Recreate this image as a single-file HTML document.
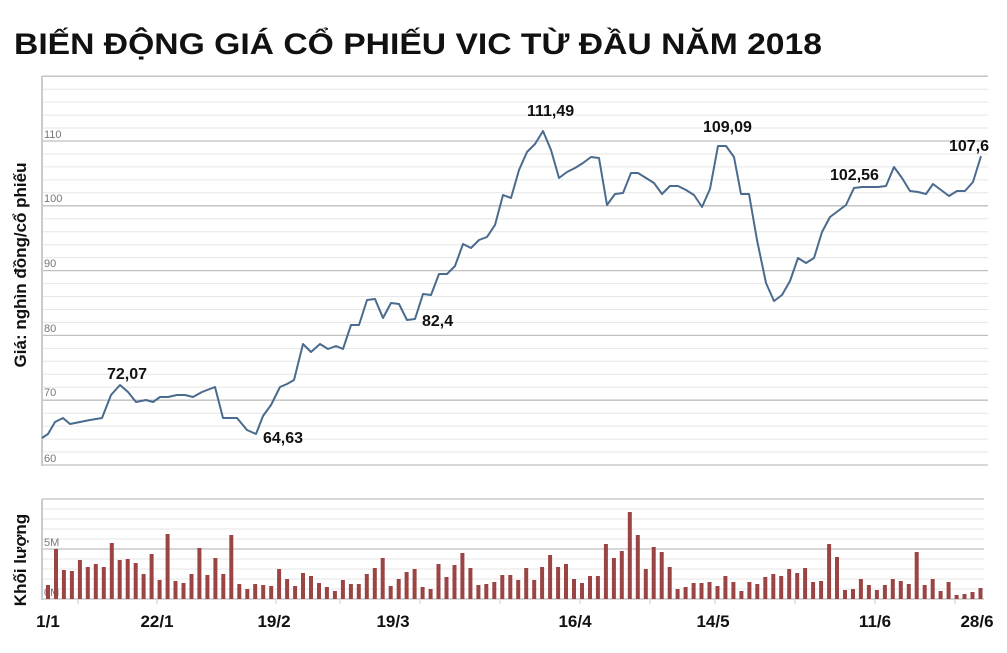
<!DOCTYPE html>
<html><head><meta charset="utf-8"><style>
html,body{margin:0;padding:0;background:#fff;}
svg{display:block;font-family:"Liberation Sans",Arial,sans-serif;}
</style></head><body>
<svg width="1007" height="653" viewBox="0 0 1007 653" xmlns="http://www.w3.org/2000/svg">
<rect width="1007" height="653" fill="#fff"/>
<text x="14" y="54" font-size="30" font-weight="bold" fill="#111" textLength="808" lengthAdjust="spacingAndGlyphs">BIẾN ĐỘNG GIÁ CỔ PHIẾU VIC TỪ ĐẦU NĂM 2018</text>
<g id="pgrid"></g>
<g id="vgrid"></g>
<line x1="42" y1="76" x2="42" y2="466" stroke="#c5ccd4" stroke-width="2"/>
<line x1="42" y1="499" x2="42" y2="600" stroke="#c5ccd4" stroke-width="2"/>
<g font-size="11" fill="#777">
<text x="44" y="138">110</text><text x="44" y="202">100</text><text x="44" y="267">90</text>
<text x="44" y="332">80</text><text x="44" y="396">70</text><text x="44" y="462">60</text>
<text x="44" y="546">5M</text><text x="44" y="596">0M</text>
</g>
<g id="bars" fill="#9b4444"></g>
<polyline fill="none" stroke="#4a6a8e" stroke-width="2" stroke-linejoin="round" points="42,438 48,434 55,422 63,418 70,424 80,422 90,420 102,418 111,395 120,385 128,392 136,402 146,400 153,402 160,397 168,397 177,395 185,395 193,397 202,392 215,387 223,418 237,418 247,430 256,434 263,416 271,405 280,387 287,384 294,380 303,344 311,352 320,344 328,349 336,346 343,349 351,325 359,325 367,300 375,299 383,318 391,303 399,304 407,320 415,319 423,294 431,295 439,274 447,274 455,266 463,244 471,248 479,240 487,237 495,225 503,195 511,198 519,170 527,152 535,144 543,131 551,150 559,178 567,172 575,168 583,163 591,157 599,158 607,205 615,194 623,193 631,173 638,173 646,178 654,183 662,194 670,186 678,186 686,190 694,195 702,207 710,189 718,146 726,146 734,157 741,194 749,194 757,240 766,283 774,301 782,295 790,281 798,258 806,263 814,258 822,232 830,217 838,211 846,205 854,188 862,187 870,187 878,187 886,186 894,167 902,178 910,191 918,192 926,194 933,184 941,190 949,196 957,191 965,191 973,182 981,156"/>
<g font-size="16" font-weight="bold" fill="#111">
<text x="107" y="379">72,07</text><text x="263" y="443">64,63</text><text x="422" y="326">82,4</text>
<text x="527" y="116">111,49</text><text x="703" y="132">109,09</text><text x="830" y="180">102,56</text><text x="949" y="151">107,6</text>
</g>
<text transform="translate(26,265) rotate(-90)" text-anchor="middle" font-size="17" font-weight="bold" fill="#111">Giá: nghìn đồng/cổ phiếu</text>
<text transform="translate(26,560) rotate(-90)" text-anchor="middle" font-size="17" font-weight="bold" fill="#111">Khối lượng</text>
<g stroke="#ccc"><line x1="78" y1="600" x2="78" y2="604"/><line x1="157" y1="600" x2="157" y2="604"/><line x1="276" y1="600" x2="276" y2="604"/><line x1="340" y1="600" x2="340" y2="604"/><line x1="420" y1="600" x2="420" y2="604"/><line x1="500" y1="600" x2="500" y2="604"/><line x1="580" y1="600" x2="580" y2="604"/><line x1="650" y1="600" x2="650" y2="604"/><line x1="715" y1="600" x2="715" y2="604"/><line x1="795" y1="600" x2="795" y2="604"/><line x1="875" y1="600" x2="875" y2="604"/><line x1="955" y1="600" x2="955" y2="604"/></g>
<g font-size="17" font-weight="bold" fill="#111" text-anchor="middle">
<text x="48" y="627">1/1</text><text x="157" y="627">22/1</text><text x="274" y="627">19/2</text><text x="393" y="627">19/3</text>
<text x="575" y="627">16/4</text><text x="713" y="627">14/5</text><text x="875" y="627">11/6</text><text x="977" y="627">28/6</text>
</g>
<script>
var ns="http://www.w3.org/2000/svg";
function L(g,x1,y1,x2,y2,c,w){var l=document.createElementNS(ns,"line");l.setAttribute("x1",x1);l.setAttribute("y1",y1);l.setAttribute("x2",x2);l.setAttribute("y2",y2);l.setAttribute("stroke",c);l.setAttribute("stroke-width",w);g.appendChild(l);}
var pg=document.getElementById("pgrid");
for(var v=60;v<=120;v+=2){var y=465-(v-60)*6.48;var major=(v%10==0);L(pg,42,y.toFixed(1),988,y.toFixed(1),major?"#bfbfbf":"#e6e6e6",major?1.3:1);}
var vg=document.getElementById("vgrid");
for(var y=499;y<=599;y+=10){var m=(y==499||y==549||y==599);L(vg,42,y,984,y,m?"#bfbfbf":"#e6e6e6",m?1.3:1);}
var tops=[585,549,570,571,560,567,564,567,543,560,559,563,574,554,580,534,581,583,574,548,575,558,574,535,584,589,584,585,586,569,579,586,573,576,583,587,591,580,584,584,574,568,558,586,579,572,569,587,589,564,577,565,553,568,585,584,582,575,575,580,568,580,567,555,567,564,579,583,576,576,544,558,551,512,535,569,547,552,567,589,587,583,583,582,586,576,582,591,582,584,577,574,576,569,573,568,582,581,544,557,590,589,579,585,590,585,579,581,584,552,585,579,591,582,595,594,592,588,592];
var bg=document.getElementById("bars");
for(var i=0;i<118;i++){var r=document.createElementNS(ns,"rect");var x=46+i*7.97;r.setAttribute("x",x.toFixed(1));r.setAttribute("y",tops[i]);r.setAttribute("width",4);r.setAttribute("height",599-tops[i]);bg.appendChild(r);}
</script>
</svg>
</body></html>
